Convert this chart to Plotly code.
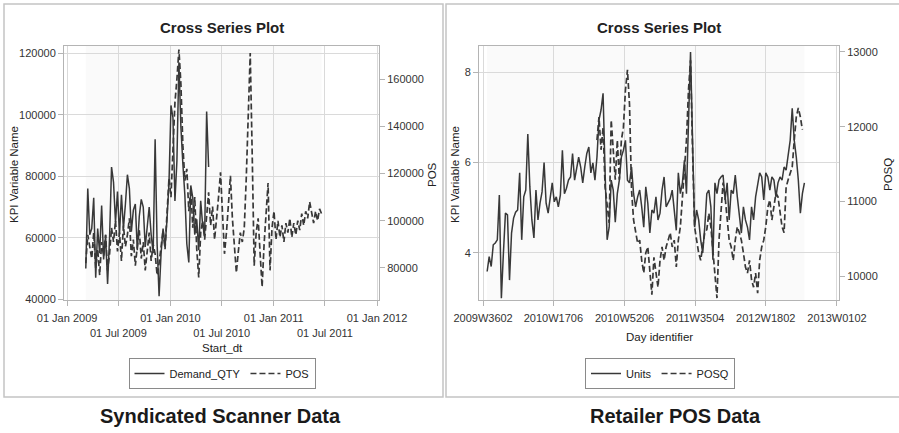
import pandas as pd
import plotly.graph_objects as go

# ---------------- Syndicated scanner data (weekly) ----------------
SCANNER_START = "2009-03-08"
DEMAND_QTY = [
    50000, 76000, 61000, 63000, 73000, 47000, 63000, 55000, 70500, 53000,
    61000, 45000, 60000, 83000, 78000, 65000, 75000, 61000, 74000, 63000,
    71000, 80500, 76000, 62000, 69000, 71000, 56000, 67000, 72500, 70000,
    57000, 63000, 70000, 61000, 55000, 92000, 58000, 41000, 55000, 63000,
    57000, 66000, 78000, 103000, 99000, 72000, 85000, 117000, 96000, 84000,
    74000, 58000, 52000, 77000, 73000, 61000, 66000, 56000, 72000, 64000,
    61000, 101000, 83000,
]
POS = [
    82000, 94000, 89000, 84000, 95000, 80000, 88000, 77000, 91000, 85000,
    94000, 79000, 86000, 97000, 91000, 100000, 87000, 95000, 83000, 98000,
    89000, 94000, 101000, 85000, 92000, 81000, 89000, 96000, 84000, 91000,
    79000, 87000, 95000, 83000, 90000, 86000, 77000, 82000, 90000, 96000,
    88000, 104000, 118000, 110000, 128000, 150000, 160000, 172500, 158000, 132000,
    117000, 122000, 104000, 114000, 97000, 110000, 88000, 76000, 95000, 100000,
    92000, 104000, 112000, 98000, 106000, 92000, 100000, 110000, 120500, 101000,
    86000, 95000, 107000, 119000, 101000, 88000, 78000, 87000, 95000, 91000,
    97000, 118000, 148000, 171000, 128000, 81000, 95000, 101000, 86000, 72000,
    90000, 104000, 116000, 79000, 97000, 104000, 92000, 100000, 93000, 98000,
    91000, 99000, 95000, 101000, 93000, 99000, 94000, 100000, 96000, 103000,
    98000, 104000, 101000, 108000, 104000, 99000, 104000, 100000, 105000, 103000,
]

SCANNER_TICKS = ["2009-01-01", "2009-07-01", "2010-01-01", "2010-07-01",
                 "2011-01-01", "2011-07-01", "2012-01-01"]
SCANNER_TICKTEXT = ["01 Jan 2009", "<br>01 Jul 2009", "01 Jan 2010", "<br>01 Jul 2010",
                    "01 Jan 2011", "<br>01 Jul 2011", "01 Jan 2012"]
DEMAND_TICKS = [40000, 60000, 80000, 100000, 120000]
POS_TICKS = [80000, 100000, 120000, 140000, 160000]

# ---------------- Retailer POS data (weekly) ----------------
UNITS_START = "2009-09-15"
UNITS = [
    3.59, 3.92, 3.70, 4.18, 4.22, 4.29, 5.28, 3.00, 4.00, 4.88,
    4.84, 3.40, 4.44, 4.77, 4.90, 4.95, 5.77, 4.29, 5.24, 5.39,
    6.63, 5.46, 4.73, 4.33, 5.39, 4.73, 5.10, 5.35, 6.00, 5.10,
    4.88, 5.28, 5.55, 5.13, 5.24, 5.02, 5.28, 6.27, 5.31, 5.43,
    5.61, 5.68, 6.20, 5.61, 5.83, 6.12, 5.90, 5.55, 5.90, 6.20,
    6.34, 5.77, 5.99, 5.61, 6.12, 6.94, 7.16, 7.53, 5.77, 4.29,
    4.57, 5.61, 5.39, 4.68, 5.31, 5.61, 6.12, 6.27, 6.49, 5.61,
    5.55, 5.90, 5.31, 5.02, 5.24,
    5.39, 5.02, 4.57, 5.46, 5.10, 4.44, 4.95, 4.88, 5.24, 4.73,
    4.88, 5.39, 5.68, 5.02, 5.10, 5.20, 5.39, 4.88, 4.50, 5.77,
    5.31, 5.55, 6.05, 5.31, 7.22, 8.44,
    6.49, 4.57, 4.95, 4.73, 4.29, 4.00, 4.57, 5.31, 5.39, 5.02,
    3.85, 5.55, 5.31, 5.61, 5.68, 5.72, 5.17, 5.55, 4.73, 5.39,
    5.31, 5.72, 5.24, 4.79, 4.44, 5.02, 4.73, 4.57, 4.29, 5.02,
    4.73, 5.24, 5.55, 5.77, 5.68, 5.17, 5.77, 5.68, 5.39, 5.68,
    5.61, 5.24, 5.55, 5.68, 5.61, 5.90, 5.83, 6.20, 6.49, 7.20,
    6.49, 6.12, 5.61, 4.88, 5.31, 5.55,
]
POSQ_START = "2010-09-28"
POSQ = [
    11820, 12130, 11690, 11990, 11190, 10920, 10710, 12090, 11690, 11290,
    11820, 11290, 11820, 11990, 12490, 12760, 12300, 11150, 10750, 10580,
    10440,
    10480, 10210, 10040, 10310, 10390, 10040, 9750, 10250, 10040, 9850,
    10210, 10390, 10210, 10390, 10480, 10580, 10390, 10480, 10120, 10480,
    10660, 11020, 11380, 11820, 12490, 12890,
    11690, 10660, 10480, 10310, 10210, 10390, 10580, 10620, 10840, 10660,
    10310, 10040, 9705,
    10480, 10920, 11250, 11060, 10790, 10480, 10390, 10210, 10480, 10660,
    10580, 10480, 10310, 10120, 10040, 10210, 9950, 9850, 10040, 9770,
    10210, 10390, 10480, 10660, 10920, 11020, 10750, 10920, 11110, 11060,
    10840, 10660, 10580, 11190, 11290, 11380, 11460, 11820, 12130, 12250,
    12130, 11960,
]

RETAIL_TICKS = ["2009-09-01", "2010-05-01", "2011-01-01", "2011-09-01",
                "2012-05-01", "2013-01-01"]
RETAIL_TICKTEXT = ["2009W3602", "2010W1706", "2010W5206", "2011W3504",
                   "2012W1802", "2013W0102"]
UNITS_TICKS = [4, 6, 8]
POSQ_TICKS = [10000, 11000, 12000, 13000]

# ---------------- figure ----------------
W, H = 899, 433
FONT = "Liberation Sans, Arial, sans-serif"
INK = "#383838"
AXIS = "#b4b4b4"
GRID = "#dadada"


def fx(px):
    return px / W


def fy(py):
    return 1 - py / H


def weekly(start, values):
    return pd.date_range(start, periods=len(values), freq="7D")


def as_text(vals):
    return [str(v) for v in vals]


scan_dates_d = weekly(SCANNER_START, DEMAND_QTY)
scan_dates_p = weekly(SCANNER_START, POS)
units_dates = weekly(UNITS_START, UNITS)
posq_dates = weekly(POSQ_START, POSQ)

fig = go.Figure()
fig.add_trace(go.Scatter(x=scan_dates_d, y=DEMAND_QTY, name="Demand_QTY", mode="lines",
                         line=dict(color=INK, width=1.5), xaxis="x", yaxis="y",
                         legend="legend"))
fig.add_trace(go.Scatter(x=scan_dates_p, y=POS, name="POS", mode="lines",
                         line=dict(color=INK, width=1.7, dash="6px,3px"),
                         xaxis="x", yaxis="y2", legend="legend"))
fig.add_trace(go.Scatter(x=units_dates, y=UNITS, name="Units", mode="lines",
                         line=dict(color=INK, width=1.5), xaxis="x2", yaxis="y3",
                         legend="legend2"))
fig.add_trace(go.Scatter(x=posq_dates, y=POSQ, name="POSQ", mode="lines",
                         line=dict(color=INK, width=1.7, dash="6px,3px"),
                         xaxis="x2", yaxis="y4", legend="legend2"))

tickfont = dict(family=FONT, size=11, color="#333333")
common_x = dict(type="date", ticks="outside", ticklen=5, tickcolor=AXIS,
                showgrid=True, gridcolor=GRID, gridwidth=1, showline=True,
                linecolor=AXIS, linewidth=1, mirror=True, zeroline=False,
                tickfont=tickfont, tickmode="array", tickangle=0,
                automargin=False, ticklabelstandoff=3)
common_y = dict(ticks="outside", ticklen=5, tickcolor=AXIS, showline=True,
                linecolor=AXIS, linewidth=1, zeroline=False, tickfont=tickfont,
                tickmode="array", automargin=False)
ydom = [fy(300), fy(46)]

fig.update_layout(
    width=W, height=H, margin=dict(l=0, r=0, t=0, b=0, autoexpand=False),
    paper_bgcolor="white", plot_bgcolor="white",
    font=dict(family=FONT, color="#222222"),
    xaxis=dict(common_x, domain=[fx(64), fx(379)], anchor="y",
               range=["2008-12-21", "2012-01-08"],
               tickvals=SCANNER_TICKS, ticktext=SCANNER_TICKTEXT),
    yaxis=dict(common_y, domain=ydom, anchor="x", range=[39800, 122300],
               tickvals=DEMAND_TICKS, ticktext=as_text(DEMAND_TICKS),
               showgrid=True, gridcolor=GRID),
    yaxis2=dict(common_y, overlaying="y", side="right", anchor="x",
                range=[66450, 173970], tickvals=POS_TICKS,
                ticktext=as_text(POS_TICKS), showgrid=False),
    xaxis2=dict(common_x, domain=[fx(479), fx(839)], anchor="y3",
                range=["2009-08-18", "2013-01-08"],
                tickvals=RETAIL_TICKS, ticktext=RETAIL_TICKTEXT),
    yaxis3=dict(common_y, domain=ydom, anchor="x2", range=[2.96, 8.575],
                tickvals=UNITS_TICKS, ticktext=as_text(UNITS_TICKS),
                showgrid=True, gridcolor=GRID),
    yaxis4=dict(common_y, overlaying="y3", side="right", anchor="x2",
                range=[9679, 13080], tickvals=POSQ_TICKS,
                ticktext=as_text(POSQ_TICKS), showgrid=False),
    legend=dict(x=fx(222), y=fy(373.5), xanchor="center", yanchor="middle",
                orientation="h", bordercolor="#8a8a8a", borderwidth=1,
                bgcolor="white", itemwidth=30, font=dict(family=FONT, size=11, color="#222")),
    legend2=dict(x=fx(660), y=fy(373.5), xanchor="center", yanchor="middle",
                 orientation="h", bordercolor="#8a8a8a", borderwidth=1,
                 bgcolor="white", itemwidth=30, font=dict(family=FONT, size=11, color="#222")),
    showlegend=True,
)

# faint band over the span covered by data, plus the two panel frames
shapes = [
    dict(type="rect", xref="x", yref="y domain", x0=scan_dates_p[0], x1=scan_dates_p[-1],
         y0=0, y1=1, fillcolor="#fafafa", line=dict(width=0), layer="below"),
    dict(type="rect", xref="x2", yref="y3 domain", x0=units_dates[0], x1=units_dates[-1],
         y0=0, y1=1, fillcolor="#fafafa", line=dict(width=0), layer="below"),
    dict(type="rect", xref="paper", yref="paper", x0=fx(4), x1=fx(443), y0=fy(397), y1=fy(4),
         line=dict(color="#c4c4c4", width=1.5), fillcolor="rgba(0,0,0,0)"),
    dict(type="rect", xref="paper", yref="paper", x0=fx(446), x1=fx(910), y0=fy(397), y1=fy(4),
         line=dict(color="#c4c4c4", width=1.5), fillcolor="rgba(0,0,0,0)"),
]
fig.update_layout(shapes=shapes)


def label(text, x, y, size=11, bold=False, angle=0, color="#222222"):
    fig.add_annotation(text=f"<b>{text}</b>" if bold else text, x=fx(x), y=fy(y),
                       xref="paper", yref="paper", showarrow=False, textangle=angle,
                       xanchor="center", yanchor="middle",
                       font=dict(family=FONT, size=size, color=color))


label("Cross Series Plot", 222, 28, size=15, bold=True)
label("Cross Series Plot", 659, 28, size=15, bold=True)
label("KPI Variable Name", 14, 175, size=11.5, angle=-90)
label("POS", 432, 175, size=11.5, angle=-90)
label("Start_dt", 222, 348, size=11.5)
label("KPI Variable Name", 455, 175, size=11.5, angle=-90)
label("POSQ", 888, 175, size=11.5, angle=-90)
label("Day identifier", 659, 337, size=11.5)
label("Syndicated Scanner Data", 220, 416, size=20, bold=True, color="#1a1a1a")
label("Retailer POS Data", 675, 416, size=20, bold=True, color="#1a1a1a")

fig.write_html("out.html")
